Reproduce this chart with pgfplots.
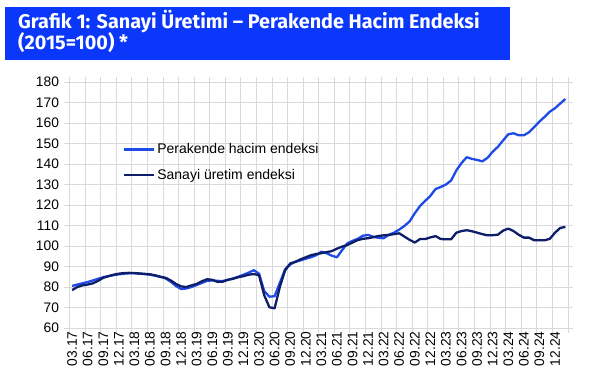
\documentclass[border=0pt]{standalone}
\usepackage{fontspec}
\setmainfont{Liberation Sans}
\newfontfamily\titlefont{Fira Sans}
\usepackage{pgfplots}
\pgfplotsset{compat=1.18}
\usepackage{pgfplotstable}
\definecolor{banner}{RGB}{10,55,250}
\definecolor{retail}{RGB}{30,75,232}
\definecolor{industry}{RGB}{14,30,105}
\definecolor{gridc}{RGB}{217,217,217}

\pgfplotstableread{
i r s
0 80.5 78.5
1 81.2 80.0
2 81.8 80.8
3 82.4 81.2
4 83.2 81.8
5 84.0 83.0
6 84.8 84.5
7 85.3 85.3
8 85.8 86.0
9 86.2 86.5
10 86.5 86.8
11 86.7 86.9
12 86.7 86.8
13 86.5 86.6
14 86.3 86.4
15 86.0 86.2
16 85.5 85.7
17 85.0 85.0
18 84.2 84.5
19 82.6 83.2
20 80.5 81.5
21 79.0 80.3
22 79.3 80.0
23 80.0 80.8
24 81.0 81.5
25 82.0 82.8
26 83.0 83.8
27 83.2 83.5
28 83.0 82.5
29 82.9 82.6
30 83.5 83.5
31 84.2 84.0
32 85.0 84.8
33 86.0 85.3
34 87.0 86.0
35 88.2 86.3
36 86.5 85.8
37 78.0 76.0
38 75.3 70.1
39 75.5 69.6
40 82.0 80.0
41 88.5 88.0
42 91.0 91.5
43 92.3 92.3
44 93.0 93.5
45 93.8 94.5
46 94.5 95.5
47 95.5 96.1
48 97.2 96.5
49 96.5 97.0
50 95.3 97.5
51 94.5 98.7
52 98.0 99.7
53 101.3 100.5
54 102.5 101.7
55 103.5 102.9
56 105.0 103.5
57 105.4 103.8
58 104.5 104.3
59 104.0 104.9
60 103.8 105.2
61 105.5 105.4
62 106.5 105.8
63 108.0 106.2
64 109.8 104.6
65 112.0 103.0
66 116.0 101.7
67 119.5 103.4
68 122.0 103.4
69 124.5 104.2
70 127.8 104.8
71 128.8 103.4
72 130.0 103.3
73 132.0 103.3
74 136.9 106.5
75 140.5 107.3
76 143.3 107.7
77 142.5 107.2
78 142.0 106.5
79 141.3 105.8
80 143.0 105.2
81 146.0 105.3
82 148.4 105.5
83 151.5 107.5
84 154.5 108.5
85 155.0 107.3
86 154.0 105.5
87 154.0 104.1
88 155.5 104.1
89 158.0 102.8
90 160.7 102.8
91 163.0 102.8
92 165.5 103.5
93 167.2 106.5
94 169.5 108.8
95 171.7 109.3
}\data

\begin{document}
\begin{tikzpicture}
\useasboundingbox (0pt,0pt) rectangle (596pt,-381pt);
\fill[white] (0pt,0pt) rectangle (596pt,-381pt);
\fill[banner] (5pt,-7pt) rectangle (510pt,-60pt);
\node[anchor=base west, text=white, inner sep=0, font=\titlefont\bfseries\fontsize{19.8}{23}\selectfont] at (18pt,-28pt) {Grafik 1: Sanayi Üretimi – Perakende Hacim Endeksi};
\node[anchor=base west, text=white, inner sep=0, font=\titlefont\bfseries\fontsize{19.8}{23}\selectfont] at (18pt,-49pt) {(2015=100) *};
\begin{axis}[
  at={(69.5pt,-328pt)}, anchor=south west,
  width=498.5pt, height=246pt, scale only axis,
  xmin=0, xmax=96, ymin=60, ymax=180,
  ytick={60,70,...,180},
  xtick={0,3,...,96}, xticklabels={},
  extra x ticks={0.5,3.5,...,93.5},
  extra x tick labels={03.17,06.17,09.17,12.17,03.18,06.18,09.18,12.18,03.19,06.19,09.19,12.19,03.20,06.20,09.20,12.20,03.21,06.21,09.21,12.21,03.22,06.22,09.22,12.22,03.23,06.23,09.23,12.23,03.24,06.24,09.24,12.24},
  extra x tick style={major tick length=0pt, grid=none, tick label style={rotate=90, anchor=east, xshift=0pt}},
  grid=major,
  grid style={gridc, line width=0.9pt},
  axis line style={gridc, line width=0.9pt},
  tick style={gridc, line width=0.9pt},
  tick align=outside, major tick length=5pt,
  ticklabel style={font=\fontsize{13.8}{15}\selectfont},
  y tick label style={xshift=-2pt},
  /pgf/number format/assume math mode=true,
  legend style={at={(0.107,0.758)}, anchor=north west, draw=none, fill=none,
    font=\fontsize{14}{16}\selectfont, row sep=10pt, inner sep=0pt,
    nodes={inner sep=2pt}},
  legend cell align=left,
  legend image code/.code={\draw[#1] (0pt,0pt) -- (30pt,0pt);},
]
\addplot[retail, line width=2.3pt, line join=round] table[x expr=\thisrow{i}+0.5, y=r] {\data};
\addlegendentry{Perakende hacim endeksi}
\addplot[industry, line width=2.3pt, line join=round] table[x expr=\thisrow{i}+0.5, y=s] {\data};
\addlegendentry{Sanayi üretim endeksi}
\end{axis}
\end{tikzpicture}
\end{document}
